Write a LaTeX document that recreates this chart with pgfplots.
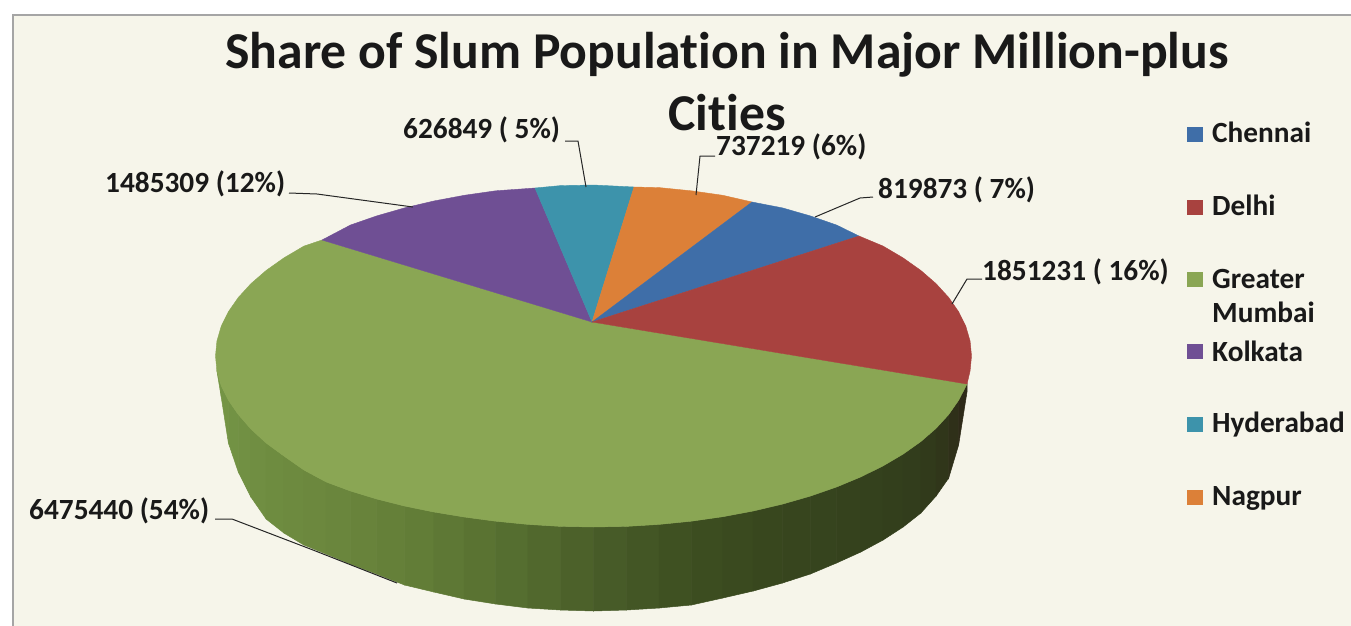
\documentclass[border=0pt]{standalone}
\usepackage{pgfplots}
\pgfplotsset{compat=1.18}
\usepackage{fontspec}
\setmainfont{Carlito}[Ligatures=NoCommon]
\definecolor{bgc}{RGB}{246,245,234}
\definecolor{greenc}{RGB}{138,166,84}
\definecolor{redc}{RGB}{168,66,63}
\definecolor{bluec}{RGB}{63,110,168}
\definecolor{orangec}{RGB}{220,128,56}
\definecolor{tealc}{RGB}{61,147,171}
\definecolor{purplec}{RGB}{111,79,148}
\newcommand\strip[9]{\addplot[draw={rgb,255:red,#1;green,#2;blue,#3},line width=0.5pt,fill={rgb,255:red,#1;green,#2;blue,#3}] coordinates {(#4,#5) (#7,#8) (#7,#9) (#4,#6)} -- cycle;}
\newcommand\lab[4]{\node[anchor=base west,inner sep=0pt,text=black!90] at (axis cs:#1,#2) {\fontsize{#3}{#3}\selectfont\bfseries #4};}
\newcommand\legbox[3]{\addplot[draw=none,fill=#1] coordinates {(1187,#2) (1203,#2) (1203,#3) (1187,#3)} -- cycle;}
\begin{document}
\begin{tikzpicture}
\begin{axis}[width=1351pt,height=625pt,scale only axis,xmin=0,xmax=1351,ymin=0,ymax=625,y dir=reverse,hide axis]
% page and chart area
\addplot[draw=none,fill=white] coordinates {(0,0) (1351,0) (1351,625) (0,625)} -- cycle;
\addplot[draw={rgb,255:red,165;green,165;blue,165},line width=1.5pt,fill=bgc] coordinates {(13,15) (1360,15) (1360,640) (13,640)} -- cycle;
% side wall of the pie, left to right
\strip{118}{150}{70}{216.9}{370.9}{371}{221.2}{385.7}{397}
\strip{116}{148}{69}{221.2}{385.7}{397}{228.4}{400.3}{443}
\strip{114}{146}{68}{228.4}{400.3}{443}{238.3}{414.5}{472}
\strip{113}{144}{67}{238.3}{414.5}{472}{250.9}{429}{497}
\strip{112}{142}{66}{250.9}{429}{497}{266.1}{443}{519}
\strip{110}{140}{64}{266.1}{443}{519}{283.9}{456}{533}
\strip{109}{138}{63}{283.9}{456}{533}{303.9}{470}{545}
\strip{108}{136}{62}{303.9}{470}{545}{326.2}{482}{554}
\strip{106}{134}{61}{326.2}{482}{554}{350.5}{491}{564}
\strip{104}{131}{59}{350.5}{491}{564}{376.7}{499}{574}
\strip{101}{128}{57}{376.7}{499}{574}{404.5}{506}{585}
\strip{98}{125}{55}{404.5}{506}{585}{433.8}{512}{592}
\strip{94}{120}{53}{433.8}{512}{592}{464.2}{517}{599}
\strip{90}{115}{50}{464.2}{517}{599}{495.7}{521.2}{604}
\strip{85}{110}{48}{495.7}{521.2}{604}{527.9}{524.4}{608}
\strip{81}{104}{45}{527.9}{524.4}{608}{560.5}{526.4}{610}
\strip{76}{97}{42}{560.5}{526.4}{610}{593.5}{527}{611}
\strip{71}{91}{40}{593.5}{527}{611}{626.5}{526.4}{610}
\strip{67}{86}{37}{626.5}{526.4}{610}{659.1}{524.4}{608}
\strip{63}{81}{34}{659.1}{524.4}{608}{691.3}{521.2}{605}
\strip{60}{77}{32}{691.3}{521.2}{605}{722.8}{516.7}{598}
\strip{58}{74}{31}{722.8}{516.7}{598}{753.2}{511}{591}
\strip{56}{71}{30}{753.2}{511}{591}{782.5}{504.1}{583}
\strip{55}{69}{30}{782.5}{504.1}{583}{810.3}{496.1}{574}
\strip{54}{68}{30}{810.3}{496.1}{574}{836.5}{487}{563}
\strip{53}{66}{29}{836.5}{487}{563}{860.8}{476.9}{552}
\strip{52}{65}{29}{860.8}{476.9}{552}{883.1}{465.9}{540}
\strip{51}{63}{28}{883.1}{465.9}{540}{903.1}{454.1}{527}
\strip{50}{61}{28}{903.1}{454.1}{527}{920.9}{441.5}{513}
\strip{49}{58}{27}{920.9}{441.5}{513}{936.1}{428.3}{496}
\strip{48}{54}{26}{936.1}{428.3}{496}{948.7}{414.5}{478}
\strip{47}{48}{25}{948.7}{414.5}{478}{958.6}{400.3}{445}
\strip{46}{42}{24}{958.6}{400.3}{445}{967}{384}{392}
% top face: Greater Mumbai
\addplot[draw=greenc,line width=0.4pt,fill=greenc] coordinates {(592,322) (967,384) (958.6,400.3) (948.7,414.5) (936.1,428.3) (920.9,441.5) (903.1,454.1) (883.1,465.9) (860.8,476.9) (836.5,487) (810.3,496.1) (782.5,504.1) (753.2,511) (722.8,516.7) (691.3,521.2) (659.1,524.4) (626.5,526.4) (593.5,527) (560.5,526.4) (527.9,524.4) (495.7,521.2) (464.2,517) (433.8,512) (404.5,506) (376.7,499) (350.5,491) (326.2,482) (303.9,470) (283.9,456) (266.1,443) (250.9,429) (238.3,414.5) (228.4,400.3) (221.2,385.7) (216.9,370.9) (215.5,356) (216.9,341.1) (221.2,326.3) (228.4,311.7) (238.3,297.5) (250.9,283.7) (266.1,270.5) (283.9,257.9) (303.9,246.1) (322,240)} -- cycle;
% Kolkata
\addplot[draw=purplec,line width=0.4pt,fill=purplec] coordinates {(592,322) (322,240) (350.5,225) (376.7,215.9) (404.5,207.9) (433.8,201) (464.2,195.3) (495.7,190.8) (535,188)} -- cycle;
% Hyderabad
\addplot[draw=tealc,line width=0.4pt,fill=tealc] coordinates {(592,322) (535,188) (560.5,185.6) (593.5,185) (634,187)} -- cycle;
% Nagpur
\addplot[draw=orangec,line width=0.4pt,fill=orangec] coordinates {(592,322) (634,187) (659.1,187.6) (691.3,190.8) (722.8,195.3) (752,202)} -- cycle;
% Chennai
\addplot[draw=bluec,line width=0.4pt,fill=bluec] coordinates {(592,322) (752,202) (782.5,207.9) (810.3,215.9) (836.5,225) (859,236)} -- cycle;
% Delhi
\addplot[draw=redc,line width=0.4pt,fill=redc] coordinates {(592,322) (859,236) (883.1,246.1) (903.1,257.9) (920.9,270.5) (936.1,283.7) (948.7,297.5) (958.6,311.7) (965.8,326.3) (970.1,341.1) (971.5,356) (970.1,370.9) (967,384)} -- cycle;
% leader lines
\addplot[black!85,line width=1pt] coordinates {(289,193) (317,194) (413,207)};
\addplot[black!85,line width=1pt] coordinates {(565,141) (578,141) (586,187)};
\addplot[black!85,line width=1pt] coordinates {(715,156) (700,156) (696,195)};
\addplot[black!85,line width=1pt] coordinates {(873,197) (860,198) (815,217)};
\addplot[black!85,line width=1pt] coordinates {(982,279) (967,279) (952,304)};
\addplot[black!85,line width=1pt] coordinates {(215,519) (232,519) (313,550) (397,583)};
% legend keys
\legbox{bluec}{127}{142}
\legbox{redc}{200}{215}
\legbox{greenc}{272}{287}
\legbox{purplec}{344}{359}
\legbox{tealc}{417}{432}
\legbox{orangec}{490}{505}
% title
\node[anchor=base,inner sep=0pt,text=black!90] at (axis cs:727,68) {\fontsize{51.7}{52}\selectfont\bfseries Share of Slum Population in Major Million-plus};
\node[anchor=base,inner sep=0pt,text=black!90] at (axis cs:727,130) {\fontsize{51.7}{52}\selectfont\bfseries Cities};
% data labels
\lab{105}{192.7}{29.3}{1485309 (12\%)}
\lab{403}{138}{29.3}{626849 ( 5\%)}
\lab{716}{155}{29.3}{737219 (6\%)}
\lab{878}{198}{29.3}{819873 ( 7\%)}
\lab{982}{280}{29.3}{1851231 ( 16\%)}
\lab{29}{519}{29.3}{6475440 (54\%)}
% legend text
\lab{1212}{142}{29.3}{Chennai}
\lab{1212}{215}{29.3}{Delhi}
\lab{1212}{288}{29.3}{Greater}
\lab{1212}{322}{29.3}{Mumbai}
\lab{1212}{361}{29.3}{Kolkata}
\lab{1212}{432}{29.3}{Hyderabad}
\lab{1212}{505}{29.3}{Nagpur}
\end{axis}
\end{tikzpicture}
\end{document}
